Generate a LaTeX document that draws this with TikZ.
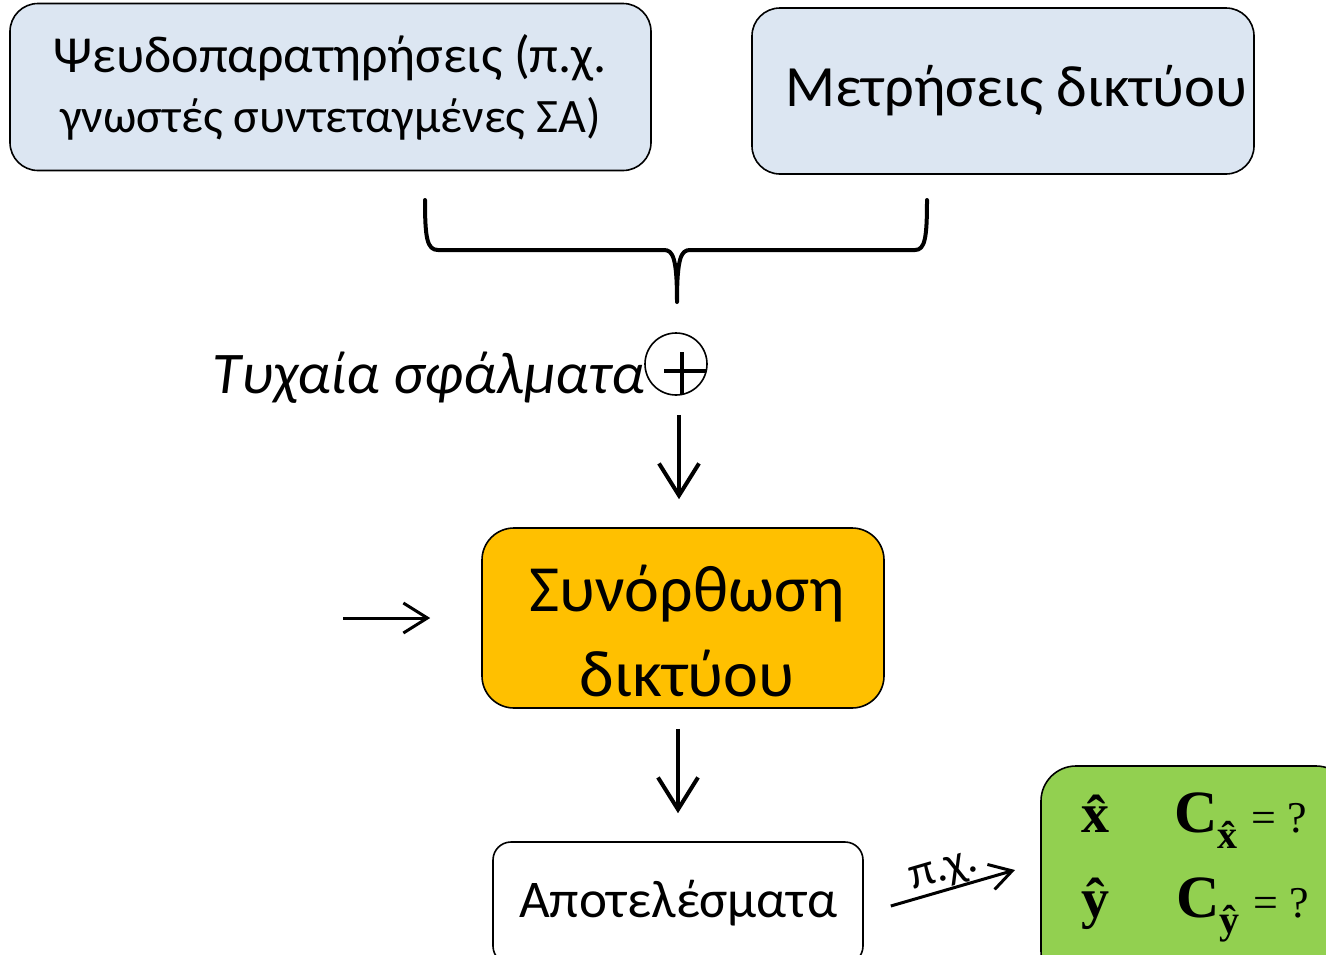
\documentclass[tikz,border=0pt]{standalone}
\usepackage[no-math]{fontspec}
\setmainfont{Carlito}
\newfontfamily\tms{Liberation Serif}
\usetikzlibrary{arrows.meta,positioning,calc}
\definecolor{obsblue}{HTML}{DCE6F2}
\definecolor{adjorange}{HTML}{FFC000}
\definecolor{resgreen}{HTML}{92D050}

\newcommand{\fsz}[1]{\fontsize{#1}{1.22\dimexpr#1pt\relax}\selectfont}
% bold serif letter with a hat, at a given size
\newcommand{\hatvec}[2]{\hbox{\fsz{#2}\tms\bfseries\^{#1}}}

\begin{document}
\begin{tikzpicture}[
    x=1pt, y=-1pt,
    >={Straight Barb[length=32pt, width=40pt]},
    box/.style={draw=black, line width=1.6pt, rounded corners=28pt,
                align=center, inner sep=0pt},
    obs/.style={box, fill=obsblue},
    flow/.style={->, line width=4pt},
    thin flow/.style={->, line width=3pt,
                      >={Straight Barb[length=24pt, width=30pt]}},
    est/.style={anchor=base, inner sep=0pt},
]
\useasboundingbox (0,0) rectangle (1326,954);

% =====================================================================
% inputs
% =====================================================================
\node[obs, minimum width=641pt, minimum height=167pt,
      font=\fontsize{50}{60}\selectfont]
    (pseudo) at (330.5,87)
    {{\fontsize{52}{60}\selectfont Ψευδοπαρατηρήσεις (π.χ.}\\
     {\fontsize{48}{60}\selectfont γνωστές συντεταγμένες ΣΑ)}};
\node[obs, minimum width=502pt, minimum height=166pt, font=\fsz{58.5}]
    (meas) at (1003,91) {\hspace*{26pt}Μετρήσεις δικτύου};

% brace joining the two inputs
\coordinate (brl) at (425,200);
\coordinate (brr) at (927,200);
\coordinate (brtip) at (677,302);
\draw[line width=4pt, line cap=round, line join=round]
    (brl) .. controls (425,238) and (427,250) .. (438,250) -- (664,250)
          .. controls (673,250) and (677,258) .. (brtip)
          .. controls (677,258) and (681,250) .. (690,250) -- (915,250)
          .. controls (925,250) and (927,238) .. (brr);

% random errors added
\node[draw, circle, line width=1.6pt, minimum size=62pt, inner sep=0pt]
    (plus) at (676,364) {};
\draw[line width=4pt] ([xshift=-12pt,yshift=-7pt]plus.center) -- ++(42,0);
\draw[line width=4pt] ([xshift=6pt,yshift=12pt]plus.center) -- ++(0,42);
\node[anchor=base east, font=\fsz{59}\itshape, inner sep=0pt]
    (noise) at (645,393) {Τυχαία σφάλματα};

% =====================================================================
% adjustment
% =====================================================================
\node[box, fill=adjorange, rounded corners=32pt, minimum width=402pt,
      minimum height=180pt] (adj) at (683,618) {};
\node[align=center, inner sep=0pt, font=\fontsize{66}{85}\selectfont]
    (adjtext) at ([xshift=4pt,yshift=-13pt]adj.center)
    {Συνόρθωση\\δικτύου};

\draw[flow] ([xshift=3pt,yshift=-19pt]plus.south)
    -- ([xshift=3pt,yshift=28pt]plus.south |- adj.north);

\coordinate (model) at (343,618);
\draw[thin flow] (model) -- ([xshift=-51pt]adj.west);

% =====================================================================
% results
% =====================================================================
\node[box, fill=white, rounded corners=18pt, minimum width=370pt,
      minimum height=122pt, font=\fsz{53}]
    (res) at (678,903) {Αποτελέσματα};

\draw[flow] ([yshift=-20pt]adj.south -| res.north) -- ([yshift=28pt]res.north);

% estimates and their covariance
\node[box, fill=resgreen, rounded corners=35pt, minimum width=310pt,
      minimum height=220pt] (estbox) at (1196,876) {};
\coordinate (pxend) at (1015,870);
\draw[thin flow, >={Straight Barb[length=22pt, width=26pt]}]
    ([xshift=27pt,yshift=-3pt]res.east) -- (pxend)
    node[pos=0.47, sloped, above=-3pt, font=\fsz{46}] {π.χ.};

\node[est] (xh) at (1095,832) {\hatvec{x}{56}};
\node[est] (yh) at (1095,917) {\hatvec{y}{56}};
\node[est, anchor=base west] (cx) at (1174,832)
    {{\fsz{60}\tms\bfseries C}\raisebox{-16pt}{\hatvec{x}{40}}%
     \hspace{14pt}{\fsz{44}\tms = ?}};
\node[est, anchor=base west] (cy) at (1176,917)
    {{\fsz{60}\tms\bfseries C}\raisebox{-16pt}{\hatvec{y}{40}}%
     \hspace{14pt}{\fsz{44}\tms = ?}};

\end{tikzpicture}
\end{document}
